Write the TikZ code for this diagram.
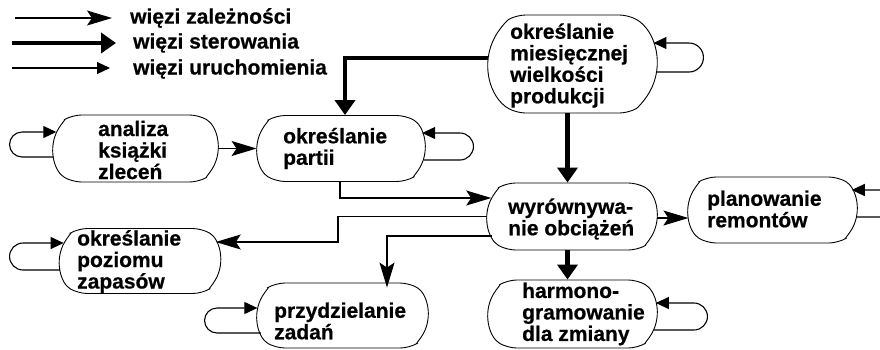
\documentclass[tikz,border=0pt]{standalone}
\usepackage{fontspec}
\setmainfont{Liberation Sans}[BoldFeatures={FakeBold=0.6}]
\usetikzlibrary{shapes.misc,arrows.meta,calc}
\begin{document}
\begin{tikzpicture}[x=1pt,y=-1pt,
  box/.style={rounded rectangle, rounded rectangle arc length=120, draw,
    line width=0.9pt, inner sep=0pt, rounded corners=9pt},
  txt/.style={anchor=west, align=left, inner sep=0pt,
    font=\fontsize{21}{21.5}\selectfont\bfseries},
  dep/.style={line width=1.1pt, -{Stealth[length=25pt,width=15pt,inset=5pt]}},
  ctl/.style={line width=4.5pt, -{Triangle[length=15pt,width=20pt]}},
  run/.style={line width=1.1pt, -{Triangle[length=13pt,width=12pt]}},
]
\useasboundingbox (0,0) rectangle (880,349);
\clip (0,0) rectangle (880,349);

% legend
\coordinate (la1) at (15,18);  \coordinate (lb1) at (112,18);
\coordinate (la2) at (12,43);  \coordinate (lb2) at (116,43);
\coordinate (la3) at (12,68);  \coordinate (lb3) at (110,68);
\draw[dep] (la1) -- (lb1);
\draw[ctl] (la2) -- (lb2);
\draw[run] (la3) -- (lb3);
\node[txt] (ldep) at (130,18) {więzi zależności};
\node[txt] (lctl) at (133,43) {więzi sterowania};
\node[txt] (lrun) at (133,69) {więzi uruchomienia};

% activity boxes
\node[box, minimum width=169pt, minimum height=98pt] (prod)    at (572.5,64)    {};
\node[box, minimum width=165pt, minimum height=67pt] (analiza) at (135.5,148.5) {};
\node[box, minimum width=168pt, minimum height=66pt] (partii)  at (341,148.5)   {};
\node[box, minimum width=170pt, minimum height=67pt] (wyrown)  at (572,216.5)   {};
\node[box, minimum width=169pt, minimum height=66pt] (remont)  at (772.5,210)   {};
\node[box, minimum width=161pt, minimum height=65pt] (zapas)   at (140,261)     {};
\node[box, minimum width=171pt, minimum height=65pt] (przydz)  at (342.5,315.5) {};
\node[box, minimum width=169pt, minimum height=68pt] (harmon)  at (572.5,314)   {};

% box texts
\node[txt] (tprod)    at (510,65.5)  {określanie\\miesięcznej\\wielkości\\produkcji};
\node[txt] (tanaliza) at (98,150)    {analiza\\książki\\zleceń};
\node[txt] (tpartii)  at (283,148.5) {określanie\\partii};
\node[txt] (twyrown)  at (508,219)   {wyrównywa-\\nie obciążeń};
\node[txt] (tremont)  at (707,209)   {planowanie\\remontów};
\node[txt] (tzapas)   at (77,261.5)  {określanie\\poziomu\\zapasów};
\node[txt] (tprzydz)  at (274,321)   {przydzielanie\\zadań};
\node[txt] (tharmon)  at (522,314)   {harmono-\\gramowanie\\dla zmiany};

% control links
\coordinate (hy) at (0,58);
\coordinate (vx) at (345,0);
\coordinate (cx) at (567.5,0);
\draw[ctl] (prod.west |- hy) -| (partii.north -| vx);
\draw[ctl] (prod.south -| cx) -- (wyrown.north -| cx);
\draw[ctl] (wyrown.south -| cx) -- (harmon.north -| cx);

% dependency links
\coordinate (px) at (340,0);
\coordinate (k1) at (338,242);
\coordinate (k2) at (387,0);
\draw[dep] (analiza.east) -- (partii.west);
\draw[dep] (partii.south -| px) |- ($(wyrown.west)+(4.7,-18.5)$);
\draw[dep] ($(wyrown.east)+(0,1.5)$) -- ($(remont.west)+(0.85,8)$);
\draw[dep] (wyrown.west) -| (k1) -- ($(zapas.east)+(-5.2,-19)$);
\draw[dep] ($(wyrown.west)+(5.3,19.5)$) -| ($(przydz.north -| k2)+(0,5)$);

% self loops
\draw[run] ($(prod.east)+(-0.6,8)$) -- ($(prod.east)+(31.5,8)$)
  arc[start angle=90, end angle=-90, radius=14.5] -- ($(prod.east)+(-4,-21)$);
\draw[run] ($(partii.east)+(-1.8,11.5)$) -- ($(partii.east)+(34.5,11.5)$)
  arc[start angle=90, end angle=-90, radius=13.5] -- ($(partii.east)+(-3.3,-15.5)$);
\draw[run] ($(remont.east)+(-0.6,7)$) -- ($(remont.east)+(38,7)$)
  arc[start angle=90, end angle=-90, radius=13.5] -- ($(remont.east)+(-5.7,-20)$);
\draw[run] ($(harmon.east)+(-3.4,16)$) -- ($(harmon.east)+(36.5,16)$)
  arc[start angle=90, end angle=-90, radius=13.5] -- ($(harmon.east)+(-1.6,-11)$);
\draw[run] ($(analiza.west)+(0.95,8.5)$) -- ($(analiza.west)+(-30.5,8.5)$)
  arc[start angle=90, end angle=270, radius=12.5] -- ($(analiza.west)+(3.7,-16.5)$);
\draw[run] ($(zapas.west)+(1.1,9)$) -- ($(zapas.west)+(-36,9)$)
  arc[start angle=90, end angle=270, radius=13.5] -- ($(zapas.west)+(4.6,-18)$);
\draw[run] ($(przydz.west)+(4.3,17.5)$) -- ($(przydz.west)+(-39.5,17.5)$)
  arc[start angle=90, end angle=270, radius=12.5] -- ($(przydz.west)+(0.8,-7.5)$);
\end{tikzpicture}
\end{document}
